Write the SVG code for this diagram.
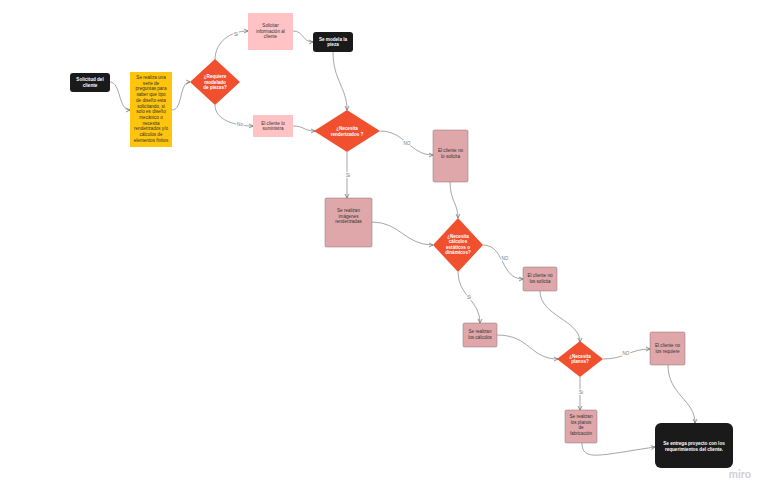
<svg xmlns="http://www.w3.org/2000/svg" width="768" height="494" viewBox="0 0 768 494">
<style>
.t{font-family:"Liberation Sans",Arial,sans-serif;font-size:4.6px;text-anchor:middle}
.w{fill:#fff;font-weight:bold}
.d{fill:#333}
.c{fill:none;stroke:#808080;stroke-width:0.7;marker-end:url(#a)}
.lb{font-family:"Liberation Sans",Arial,sans-serif;font-size:4.6px;fill:#777;text-anchor:middle;stroke:#fff;stroke-width:2;paint-order:stroke}
.blk{fill:#1a1a1a}
.dia{fill:#F0502E}
.pl{fill:#FFC3C6}
.pd{fill:#E0A7AA;stroke:#8c7272;stroke-width:0.5}
</style>
<defs>
<marker id="a" markerWidth="6" markerHeight="6" refX="5" refY="3" orient="auto" markerUnits="userSpaceOnUse">
<path d="M1,1 L5,3 L1,5" fill="none" stroke="#666" stroke-width="0.7"/>
</marker>
</defs>
<rect width="768" height="494" fill="#fff"/>
<g id="connectors">
<path class="c" d="M110,82 C121,82 118,110 130,110"/>
<path class="c" d="M172,110 C183,110 179,82 190,82"/>
<path class="c" d="M215,60 C215,42 230,31 248,31"/>
<path class="c" d="M215,105 C215,120 235,126 253,126"/>
<path class="c" d="M293,31 C304,31 302,42 313,42"/>
<path class="c" d="M333,52 C333,80 347,88 347,110"/>
<path class="c" d="M293,126 C305,126 303,131 315,131"/>
<path class="c" d="M380,131 C405,131 410,155 433,155"/>
<path class="c" d="M347,152 L347,198"/>
<path class="c" d="M450,182 C450,200 458,204 458,218"/>
<path class="c" d="M372,222 C400,222 405,245 433,245"/>
<path class="c" d="M483,245 C505,245 500,279 523,279"/>
<path class="c" d="M458,272 C458,296 480,300 480,323"/>
<path class="c" d="M540,291 C540,316 580,320 580,342"/>
<path class="c" d="M497,335 C530,335 530,359 558,359"/>
<path class="c" d="M603,359 C625,359 630,349 650,349"/>
<path class="c" d="M580,377 L580,410"/>
<path class="c" d="M668,365 C668,395 695,400 695,423"/>
<path class="c" d="M582,443 C582,462 600,455 655,447"/>
<text class="lb" x="236" y="36">Si</text>
<text class="lb" x="240" y="126">No</text>
<text class="lb" x="407" y="145">NO</text>
<text class="lb" x="348" y="177">Si</text>
<text class="lb" x="505" y="260">NO</text>
<text class="lb" x="469" y="299">Si</text>
<text class="lb" x="626" y="355">NO</text>
<text class="lb" x="581" y="394">Si</text>
</g>
<g id="n1"><rect class="blk" x="70" y="73" width="40" height="19" rx="3"/>
<text class="t w" x="90" y="81">Solicitud  del</text><text class="t w" x="90" y="87">cliente</text></g>
<g id="n2"><rect x="130" y="72" width="42" height="75" fill="#FFC40C"/>
<g class="t d"><text x="151" y="79">Se realiza una</text><text x="151" y="84.7">serie de</text><text x="151" y="90.4">preguntas para</text><text x="151" y="96.1">saber que tipo</text><text x="151" y="101.8">de diseño esta</text><text x="151" y="107.5">solicitando, si</text><text x="151" y="113.2">solo es diseño</text><text x="151" y="118.9">mecánico o</text><text x="151" y="124.6">necesita</text><text x="151" y="130.3">renderizados y/o</text><text x="151" y="136">cálculos de</text><text x="151" y="141.7">elementos finitos</text></g></g>
<g id="n3"><polygon class="dia" points="215,59 240,82 215,105 190,82"/>
<text class="t w" x="215" y="78">¿Requiere</text><text class="t w" x="215" y="83.5">modelado</text><text class="t w" x="215" y="89">de piezas?</text></g>
<g id="n4"><rect class="pl" x="248" y="13" width="45" height="37"/>
<text class="t d" x="270.5" y="27">Solicitar</text><text class="t d" x="270.5" y="32.5">información al</text><text class="t d" x="270.5" y="38">cliente</text></g>
<g id="n5"><rect class="blk" x="313" y="32" width="40" height="20" rx="3"/>
<text class="t w" x="333" y="40.5">Se modela la</text><text class="t w" x="333" y="46">pieza</text></g>
<g id="n6"><rect class="pl" x="253" y="115" width="40" height="22"/>
<text class="t d" x="273" y="124.5">El cliente lo</text><text class="t d" x="273" y="130">suministra</text></g>
<g id="n7"><polygon class="dia" points="347,110 380,131 347,152 314,131"/>
<text class="t w" x="347" y="130">¿Necesita</text><text class="t w" x="347" y="135.5">renderizados ?</text></g>
<g id="n8"><rect class="pd" x="433" y="130" width="35" height="52" rx="1.5"/>
<text class="t d" x="450.5" y="152">El cliente no</text><text class="t d" x="450.5" y="157.5">lo solicita</text></g>
<g id="n9"><rect class="pd" x="325" y="198" width="47" height="49" rx="1.5"/>
<text class="t d" x="348.5" y="212">Se realizan</text><text class="t d" x="348.5" y="217.5">imágenes</text><text class="t d" x="348.5" y="223">renderizadas</text></g>
<g id="n10"><polygon class="dia" points="458,218 483,245 458,272 433,245"/>
<text class="t w" x="458" y="238">¿Necesita</text><text class="t w" x="458" y="243.3">cálculos</text><text class="t w" x="458" y="248.6">estáticos o</text><text class="t w" x="458" y="253.9">dinámicos?</text></g>
<g id="n11"><rect class="pd" x="523" y="267" width="34" height="24" rx="1.5"/>
<text class="t d" x="540" y="277">El cliente no</text><text class="t d" x="540" y="282.5">los solicita</text></g>
<g id="n12"><rect class="pd" x="463" y="323" width="34" height="24" rx="1.5"/>
<text class="t d" x="480" y="333">Se realizan</text><text class="t d" x="480" y="338.5">los cálculos</text></g>
<g id="n13"><polygon class="dia" points="580,341 603,359 580,377 557,359"/>
<text class="t w" x="580" y="357.5">¿Necesita</text><text class="t w" x="580" y="363">planos?</text></g>
<g id="n14"><rect class="pd" x="650" y="332" width="35" height="33" rx="1.5"/>
<text class="t d" x="667.5" y="347">El cliente no</text><text class="t d" x="667.5" y="352.5">los requiere</text></g>
<g id="n15"><rect class="pd" x="565" y="410" width="32" height="33" rx="1.5"/>
<text class="t d" x="581" y="418">Se realizan</text><text class="t d" x="581" y="423.5">los planos</text><text class="t d" x="581" y="429">de</text><text class="t d" x="581" y="434.5">fabricación</text></g>
<g id="n16"><rect class="blk" x="655" y="423" width="78" height="45" rx="6"/>
<text class="t w" x="694" y="445">Se entrega proyecto con los</text><text class="t w" x="694" y="450.5">requerimientos del cliente.</text></g>
<text x="740" y="478" font-family="Lato,'Liberation Sans',sans-serif" font-size="11" font-weight="bold" fill="#d0d0d8" text-anchor="middle">miro</text>
</svg>
